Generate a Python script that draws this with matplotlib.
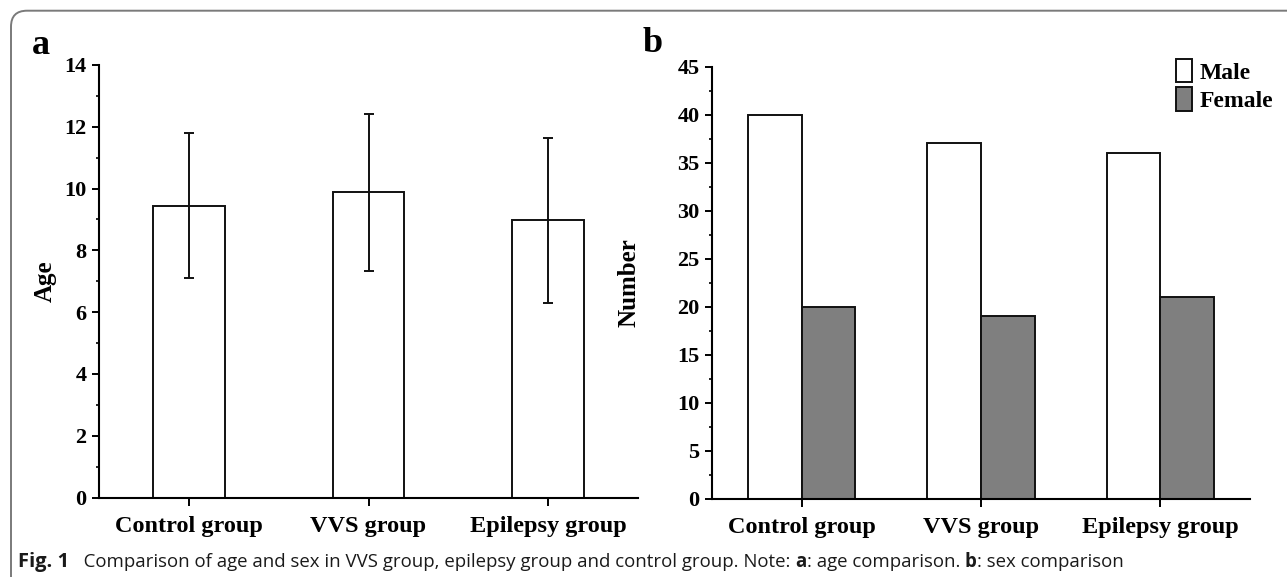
import matplotlib
matplotlib.use('Agg')
import numpy as np
from matplotlib import pyplot as plt
from matplotlib.patches import FancyBboxPatch, Patch

groups = ['Control group', 'VVS group', 'Epilepsy group']
age_mean = [9.45, 9.88, 8.97]
age_sd = [2.35, 2.55, 2.67]
male = [40, 37, 36]
female = [20, 19, 21]
age_ticks = [0, 2, 4, 6, 8, 10, 12, 14]
num_ticks = [0, 5, 10, 15, 20, 25, 30, 35, 40, 45]

serif = 'Liberation Serif'
W, H = 1287, 577
fig = plt.figure(figsize=(W / 100, H / 100), dpi=100)

# rounded frame (right/bottom run off the picture)
frame = FancyBboxPatch((0.11, -1.0), 20, 6.663, boxstyle='round,pad=0,rounding_size=0.16',
                       transform=fig.dpi_scale_trans, fill=False, ec='#7a7a7a', lw=1.4)
fig.patches.append(frame)


def style_axes(ax, ticks, ylabel, lab_x):
    for s in ['top', 'right']:
        ax.spines[s].set_visible(False)
    for s in ['left', 'bottom']:
        ax.spines[s].set_linewidth(1.5)
    ax.set_xlim(0.5, 3.5)
    ax.set_xticks([1, 2, 3])
    ax.set_xticklabels(groups, fontfamily=serif, fontweight='bold', fontsize=17.5)
    ax.set_yticks(ticks)
    ax.set_yticklabels([str(t) for t in ticks], fontfamily=serif, fontweight='bold', fontsize=16)
    ax.set_ylim(ticks[0], ticks[-1])
    step = ticks[1] - ticks[0]
    ax.set_yticks(np.arange(ticks[0] + step / 2, ticks[-1], step), minor=True)
    ax.tick_params(axis='y', which='major', direction='out', length=5, width=1.4, pad=4)
    ax.tick_params(axis='y', which='minor', direction='out', length=2.5, width=1.2)
    ax.tick_params(axis='x', direction='out', length=5.5, width=1.4, pad=8)
    ax.set_ylabel(ylabel, fontfamily=serif, fontweight='bold', fontsize=18)
    ax.yaxis.set_label_coords(lab_x, 0.5)
    ax.yaxis.label.set_verticalalignment('center')


# panel a
axa = fig.add_axes([99 / W, 1 - 497.5 / H, 539 / W, 432.5 / H])
x = np.arange(1, 4)
axa.bar(x, age_mean, width=0.4, color='white', edgecolor='#111111', linewidth=1.4, zorder=2)
axa.errorbar(x, age_mean, yerr=age_sd, fmt='none', ecolor='#111111', elinewidth=1.4,
             capsize=3.3, capthick=1.4, zorder=3)
style_axes(axa, age_ticks, 'Age', (45 - 99) / 539)

# panel b
axb = fig.add_axes([712 / W, 1 - 498.5 / H, 538 / W, 432 / H])
axb.bar(x - 0.15, male, width=0.3, color='white', edgecolor='#111111', linewidth=1.4, zorder=2)
axb.bar(x + 0.15, female, width=0.3, color='#7f7f7f', edgecolor='#111111', linewidth=1.4, zorder=2)
style_axes(axb, num_ticks, 'Number', (629 - 712) / 538)

handles = [Patch(fc='white', ec='#111111', lw=1.4), Patch(fc='#7f7f7f', ec='#111111', lw=1.4)]
fig.legend(handles, ['Male', 'Female'], loc='upper left', bbox_to_anchor=(1176 / W, 1 - 59 / H),
           frameon=False, borderpad=0, borderaxespad=0, handlelength=0.68, handleheight=1.15,
           labelspacing=0.15, handletextpad=0.3, prop={'family': serif, 'weight': 'bold', 'size': 17})

fig.text(32 / W, 1 - 45 / H, 'a', fontfamily=serif, fontweight='bold', fontsize=26, va='center')
fig.text(643 / W, 1 - 43 / H, 'b', fontfamily=serif, fontweight='bold', fontsize=26, va='center')

# caption, drawn piece by piece so the bold parts sit inline
pieces = [('Fig. 1', 'bold', 14.5), ('   Comparison of age and sex in VVS group, epilepsy group and control group. Note: ', 'normal', 13.4),
          ('a', 'bold', 13.4), (': age comparison. ', 'normal', 13.4), ('b', 'bold', 13.4), (': sex comparison', 'normal', 13.4)]
renderer = fig.canvas.get_renderer()
xpos = 18
for txt, wt, fs in pieces:
    t = fig.text(xpos / W, 1 - 562 / H, txt, fontfamily='Open Sans', fontweight=wt, fontsize=fs,
                 va='center', ha='left', color='#1a1a1a')
    bb = t.get_window_extent(renderer=renderer)
    xpos += bb.width

fig.savefig('out.png', dpi=100)
